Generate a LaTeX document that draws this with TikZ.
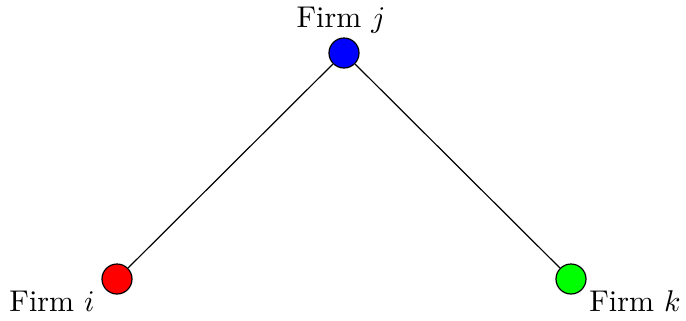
\documentclass[tikz,border=0pt]{standalone}
\begin{document}
\begin{tikzpicture}[x=0.3333pt,y=-0.3333pt,
  firm/.style={circle,draw=black,minimum size=10pt,inner sep=0pt},
  lab/.style={inner sep=0pt,font=\fontsize{10}{12}\selectfont}]
\useasboundingbox (0,0) rectangle (686,320);
\node[firm,fill=blue] (j) at (344,53) {};
\node[firm,fill=red] (i) at (117,279) {};
\node[firm,fill=green] (k) at (571,279) {};
\draw (j) -- (i);
\draw (j) -- (k);
\node[lab] (lj) at (341,20) {Firm $j$};
\node[lab] (li) at (52,301) {Firm $i$};
\node[lab] (lk) at (635,301) {Firm $k$};
\end{tikzpicture}
\end{document}
